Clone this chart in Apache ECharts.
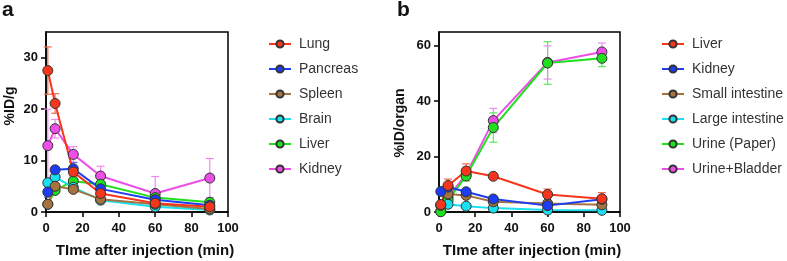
<!DOCTYPE html>
<html><head><meta charset="utf-8">
<script src="https://cdn.jsdelivr.net/npm/echarts@6/dist/echarts.min.js"></script>
<style>html,body{margin:0;padding:0;background:#fff}
#wrap{position:relative;width:787px;height:261px}
#ca{position:absolute;left:0;top:0;width:390px;height:261px}
#cb{position:absolute;left:390px;top:0;width:397px;height:261px}</style>
</head><body><div id="wrap"><div id="ca"></div><div id="cb"></div></div>
<script>
// ---- data ----
const time = [1, 5, 15, 30, 60, 90];
const xTicks = [0, 20, 40, 60, 80, 100];
const yTicksA = [0, 10, 20, 30];
const yTicksB = [0, 20, 40, 60];

const namesA = ['Lung', 'Pancreas', 'Spleen', 'Brain', 'Liver', 'Kidney'];
const lungA = [27.5, 21.1, 7.8, 3.6, 1.7, 1.0];
const lungErrA = [4.6, 1.9, 0.8, 0.5, 0.3, 0.2];
const pancreasA = [3.9, 8.2, 8.4, 4.5, 2.4, 1.3];
const pancreasErrA = [1.0, 0.6, 1.2, 0.5, 0.3, 0.2];
const spleenA = [1.5, 5.0, 4.4, 2.5, 1.5, 0.6];
const spleenErrA = [0.3, 0.5, 0.5, 0.3, 0.2, 0.1];
const brainA = [5.7, 6.8, 4.8, 2.3, 1.0, 0.4];
const brainErrA = [0.4, 0.5, 0.4, 0.3, 0.2, 0.1];
const liverA = [1.5, 4.2, 6.0, 5.4, 2.8, 1.9];
const liverErrA = [0.3, 0.5, 0.6, 0.5, 0.4, 0.3];
const kidneyA = [12.9, 16.2, 11.2, 7.0, 3.6, 6.6];
const kidneyErrA = [7.1, 1.8, 1.5, 1.9, 3.3, 3.8];

const namesB = ['Liver', 'Kidney', 'Small intestine', 'Large intestine', 'Urine (Paper)', 'Urine+Bladder'];
const liverB = [2.7, 9.6, 14.8, 12.9, 6.3, 4.8];
const liverErrB = [0.8, 2.3, 2.6, 0.6, 2.0, 2.2];
const kidneyB = [7.4, 9.0, 7.3, 4.7, 2.3, 4.6];
const kidneyErrB = [0.6, 0.8, 0.8, 0.4, 0.3, 0.5];
const smallIntB = [2.4, 6.5, 6.0, 3.7, 3.1, 2.6];
const smallIntErrB = [0.4, 0.8, 0.7, 0.4, 0.4, 0.3];
const largeIntB = [2.5, 2.8, 2.1, 1.4, 0.7, 0.6];
const largeIntErrB = [0.3, 0.3, 0.3, 0.2, 0.1, 0.1];
const urineB = [0.1, 4.3, 13.0, 30.5, 53.8, 55.5];
const urineErrB = [0.1, 0.8, 1.8, 5.3, 7.7, 3.0];
const urineBladderB = [0.3, 5.3, 13.6, 33.0, 54.0, 57.8];
const urineBladderErrB = [0.2, 1.0, 2.0, 4.4, 6.0, 3.2];

const colors = ['#f5361c', '#1d3df5', '#a57340', '#19e0f0', '#1ee01e', '#ee4ee8'];
const errColors = ['#f76a55', '#5a70f5', '#b88d60', '#5ae8f2', '#5ee85e', '#f08af0'];

const valsA = [lungA, pancreasA, spleenA, brainA, liverA, kidneyA];
const errsA = [lungErrA, pancreasErrA, spleenErrA, brainErrA, liverErrA, kidneyErrA];
const valsB = [liverB, kidneyB, smallIntB, largeIntB, urineB, urineBladderB];
const errsB = [liverErrB, kidneyErrB, smallIntErrB, largeIntErrB, urineErrB, urineBladderErrB];

// ---- build ----
const fontF = 'Liberation Sans, Arial, sans-serif';
function errSeries(name, vals, errs, color) {
  return {
    type: 'custom', name: name + ' error', z: 1, silent: true, color: color,
    data: time.map((t, i) => [t, vals[i] - errs[i], vals[i] + errs[i]]),
    renderItem: function (params, api) {
      const lo = api.coord([api.value(0), api.value(1)]);
      const hi = api.coord([api.value(0), api.value(2)]);
      const w = 4;
      const st = { stroke: color, lineWidth: 1.2 };
      return { type: 'group', children: [
        { type: 'line', shape: { x1: hi[0], y1: hi[1], x2: lo[0], y2: lo[1] }, style: st },
        { type: 'line', shape: { x1: hi[0] - w, y1: hi[1], x2: hi[0] + w, y2: hi[1] }, style: st },
        { type: 'line', shape: { x1: lo[0] - w, y1: lo[1], x2: lo[0] + w, y2: lo[1] }, style: st }
      ]};
    }
  };
}
function lineSeries(name, vals, color) {
  return {
    type: 'line', name: name, z: 2, color: color,
    data: time.map((t, i) => [t, vals[i]]),
    symbol: 'circle', symbolSize: 10,
    lineStyle: { color: color, width: 2 },
    itemStyle: { color: color, borderColor: '#333', borderWidth: 1 },
    emphasis: { disabled: true }
  };
}
function buildSeries(names, vals, errs) {
  const s = [];
  for (let i = names.length - 1; i >= 0; i--) s.push(errSeries(names[i], vals[i], errs[i], errColors[i]));
  for (let i = names.length - 1; i >= 0; i--) s.push(lineSeries(names[i], vals[i], colors[i]));
  return s;
}
const axisLineStyle = { show: true, onZero: false, lineStyle: { color: '#000', width: 1.5 } };
function axis(min, max, interval, ticks, margin) {
  return {
    type: 'value', min: min, max: max, interval: interval,
    axisLine: axisLineStyle,
    axisTick: { show: true, inside: false, length: 5, lineStyle: { color: '#000', width: 1.5 }, customValues: ticks },
    splitLine: { show: false },
    axisLabel: { color: '#111', fontWeight: 'bold', fontSize: 13, fontFamily: fontF, margin: margin, customValues: ticks }
  };
}
function buildOption(cfg) {
  return {
    animation: false,
    backgroundColor: '#fff',
    grid: { left: cfg.gridLeft, top: 32, width: cfg.gridWidth, height: 180, show: true, borderColor: '#000', borderWidth: 1.5 },
    xAxis: axis(0, 100, 20, xTicks, 10),
    yAxis: axis(0, cfg.yMax, cfg.yInterval, cfg.yTicks, 8),
    legend: {
      orient: 'vertical', left: cfg.legendLeft, top: 37, itemWidth: 22, itemHeight: 9, itemGap: 11, padding: 0,
      textStyle: { fontSize: 14, color: '#333', lineHeight: 14, fontFamily: fontF, padding: [0, 0, 0, 3] },
      data: cfg.names.map(n => ({ name: n }))
    },
    graphic: [
      { type: 'text', left: cfg.letterLeft, top: 0, style: { text: cfg.letter, font: 'bold 21px ' + fontF, fill: '#111' } },
      { type: 'text', x: cfg.xTitleX, y: 251, style: { text: 'TIme after injection (min)', font: 'bold 15px ' + fontF, fill: '#111', textAlign: 'center', textVerticalAlign: 'middle' } },
      { type: 'text', x: cfg.yTitleX, y: cfg.yTitleY, rotation: Math.PI / 2, style: { text: cfg.yTitle, font: 'bold 14px ' + fontF, fill: '#111', textAlign: 'center', textVerticalAlign: 'middle' } }
    ],
    series: buildSeries(cfg.names, cfg.vals, cfg.errs)
  };
}
const chartA = echarts.init(document.getElementById('ca'), null, { renderer: 'canvas' });
chartA.setOption(buildOption({
  gridLeft: 46, gridWidth: 182, yMax: 35, yInterval: 10, yTicks: yTicksA, legendLeft: 268,
  names: namesA, vals: valsA, errs: errsA, letter: 'a', letterLeft: 2,
  xTitleX: 145, yTitle: '%ID/g', yTitleX: 10, yTitleY: 106
}));
const chartB = echarts.init(document.getElementById('cb'), null, { renderer: 'canvas' });
chartB.setOption(buildOption({
  gridLeft: 49, gridWidth: 181, yMax: 65, yInterval: 20, yTicks: yTicksB, legendLeft: 271,
  names: namesB, vals: valsB, errs: errsB, letter: 'b', letterLeft: 7,
  xTitleX: 142, yTitle: '%ID/organ', yTitleX: 10, yTitleY: 123
}));
</script></body></html>
